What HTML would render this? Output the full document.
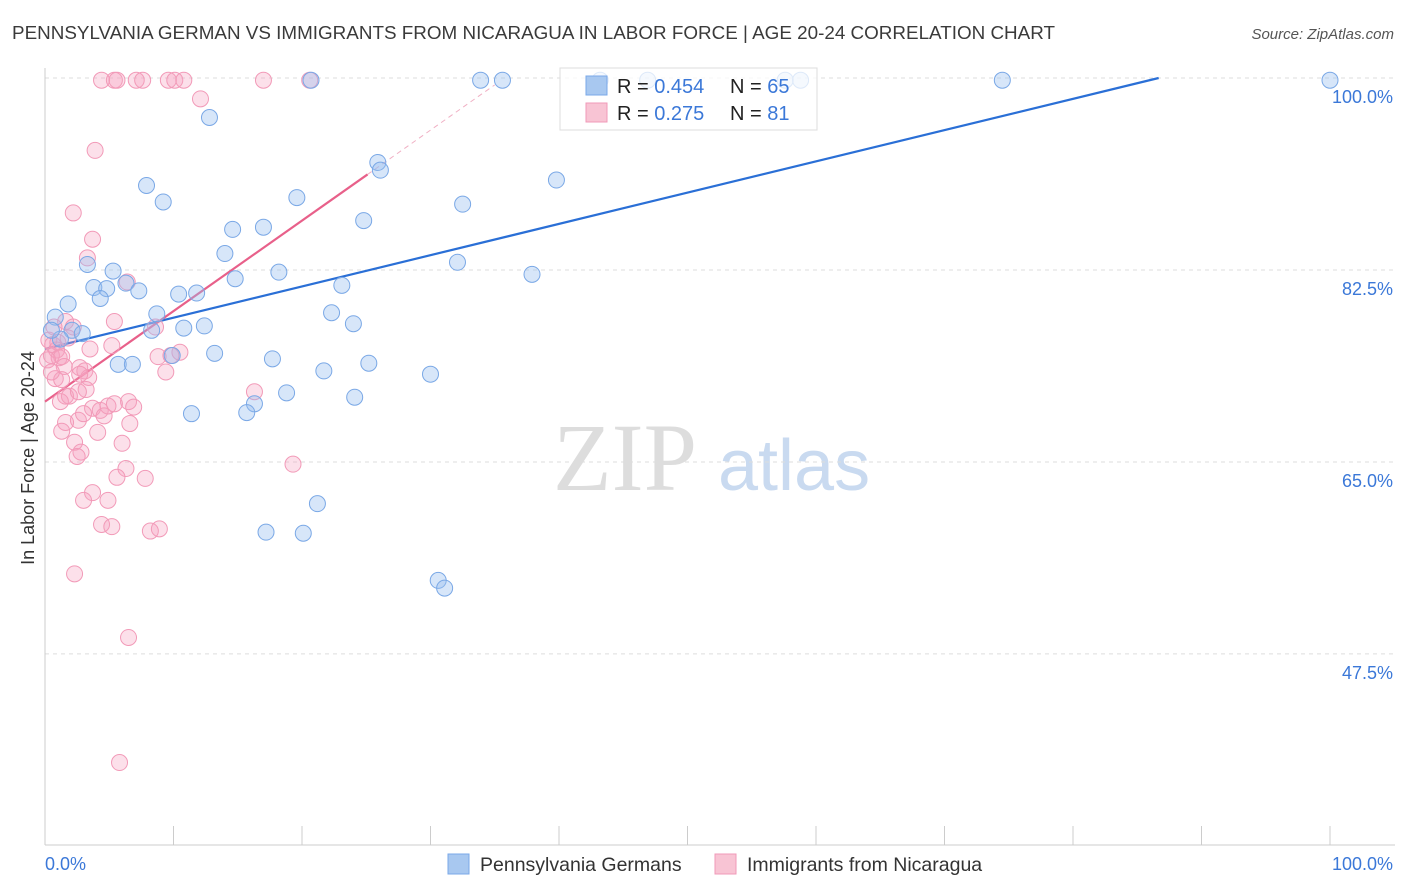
<!DOCTYPE html>
<html><head><meta charset="utf-8"><style>
body{margin:0;background:#fff;font-family:"Liberation Sans",sans-serif;}
svg{display:block}
</style></head><body>
<svg id="chart" width="1406" height="892" xmlns="http://www.w3.org/2000/svg" font-family="Liberation Sans, sans-serif">
<text x="12" y="39" font-size="18" fill="#3a3a3a" textLength="1043" lengthAdjust="spacingAndGlyphs">PENNSYLVANIA GERMAN VS IMMIGRANTS FROM NICARAGUA IN LABOR FORCE | AGE 20-24 CORRELATION CHART</text>
<text x="1394" y="39" font-size="15" fill="#555" font-style="italic" text-anchor="end">Source: ZipAtlas.com</text>
<g>
<text x="553" y="490" font-size="96" fill="#ddd" font-family="Liberation Serif, serif">ZIP</text>
<text x="718" y="490" font-size="72" fill="#c9daf0">atlas</text>
</g>
<g id="grid"></g>
<g id="axes"></g>
<g id="trends"></g>
<g id="points"></g>
<text transform="translate(34,458) rotate(-90)" font-size="18" fill="#333" text-anchor="middle">In Labor Force | Age 20-24</text>
<g>
<rect x="560" y="68" width="257" height="62" fill="#fff" fill-opacity="0.75" stroke="#ddd"/>
<rect x="586" y="76" width="21" height="19" fill="#a8c8f0" stroke="#7aa8e8"/>
<rect x="586" y="103" width="21" height="19" fill="#f8c4d4" stroke="#f09ab8"/>
<text x="617" y="93" font-size="20" fill="#222">R = <tspan fill="#3b78d8">0.454</tspan></text>
<text x="730" y="93" font-size="20" fill="#222">N = <tspan fill="#3b78d8">65</tspan></text>
<text x="617" y="120" font-size="20" fill="#222">R = <tspan fill="#3b78d8"> 0.275</tspan></text>
<text x="730" y="120" font-size="20" fill="#222">N = <tspan fill="#3b78d8"> 81</tspan></text>
</g>
<g>
<rect x="448" y="854" width="21" height="20" fill="#a8c8f0" stroke="#7aa8e8"/>
<text x="480" y="871" font-size="19.5" fill="#333">Pennsylvania Germans</text>
<rect x="715" y="854" width="21" height="20" fill="#f8c4d4" stroke="#f09ab8"/>
<text x="747" y="871" font-size="19.5" fill="#333">Immigrants from Nicaragua</text>
</g>
</svg>
<script>
const blueX=[20.7,33.9,35.6,43.2,46.9,57.6,58.8,74.5,100,12.8,25.9,26.1,39.8,7.9,9.2,19.6,32.5,24.8,14.6,17.0,14.0,32.1,3.3,5.3,18.2,37.9,14.8,6.3,23.1,3.8,4.8,7.3,10.4,11.8,1.8,4.3,8.7,22.3,0.8,12.4,10.8,24.0,8.3,2.1,2.9,1.2,13.2,9.9,17.7,25.2,5.7,6.8,21.7,30.0,18.8,24.1,16.3,11.4,15.7,21.2,17.2,20.1,30.6,31.1,0.5];
const blueY=[99.8,99.8,99.8,99.8,99.8,99.8,99.8,99.8,99.8,96.4,92.3,91.6,90.7,90.2,88.7,89.1,88.5,87.0,86.2,86.4,84.0,83.2,83.0,82.4,82.3,82.1,81.7,81.3,81.1,80.9,80.8,80.6,80.3,80.4,79.4,79.9,78.5,78.6,78.2,77.4,77.2,77.6,77.0,77.0,76.7,76.2,74.9,74.7,74.4,74.0,73.9,73.9,73.3,73.0,71.3,70.9,70.3,69.4,69.5,61.2,58.6,58.5,54.2,53.5,77.0];
const pinkX=[4.4,5.4,5.6,7.1,7.6,9.6,10.1,10.8,17.0,20.6,12.1,3.9,2.2,3.7,3.3,6.4,5.4,1.6,2.2,8.6,0.3,0.6,0.9,0.5,1.1,1.3,3.5,5.2,8.8,10.5,9.8,1.5,2.7,3.1,9.4,0.8,1.3,3.4,2.7,3.2,16.3,1.6,1.9,6.5,3.7,4.3,4.9,6.9,4.6,2.6,1.6,1.3,6.6,4.1,6.0,2.3,2.8,2.5,19.3,6.3,5.6,7.8,3.7,3.0,4.9,4.4,5.2,8.2,8.9,2.3,6.5,5.8,0.7,0.2,0.5,1.0,1.8,3.0,2.6,1.2,5.4];
const pinkY=[99.8,99.8,99.8,99.8,99.8,99.8,99.8,99.8,99.8,99.8,98.1,93.4,87.7,85.3,83.6,81.4,77.8,77.8,77.3,77.3,76.1,75.7,75.2,74.7,74.5,74.6,75.3,75.6,74.6,75.0,74.7,73.7,73.6,73.3,73.2,72.6,72.5,72.7,73.0,71.6,71.4,71.0,71.0,70.5,69.9,69.7,70.1,70.0,69.2,68.8,68.6,67.8,68.5,67.7,66.7,66.8,65.9,65.5,64.8,64.4,63.6,63.5,62.2,61.5,61.5,59.3,59.1,58.7,58.9,54.8,49.0,37.6,77.3,74.3,73.2,75.9,76.3,69.4,71.4,70.5,70.3];
const yTicks=[100,82.5,65,47.5];
const yTickLabels=["100.0%","82.5%","65.0%","47.5%"];
const xTickLabels=["0.0%","100.0%"];
const blueTrend=[75.3,0.285];
const pinkTrend=[70.5,0.825];
const pinkSolidEnd=25.1, pinkDashEnd=35;

const NS="http://www.w3.org/2000/svg";
const X0=45,X1=1330,Y100=78,PXPER=10.97;
const sx=v=>X0+v*(X1-X0)/100;
const sy=v=>Y100+(100-v)*PXPER;
function mk(tag,attrs,parent){const e=document.createElementNS(NS,tag);for(const k in attrs)e.setAttribute(k,attrs[k]);parent.appendChild(e);return e;}
const grid=document.getElementById('grid'),axes=document.getElementById('axes'),trends=document.getElementById('trends'),pts=document.getElementById('points');
yTicks.forEach((t,i)=>{
  const l=mk('line',{x1:X0,x2:1395,y1:sy(t),y2:sy(t),stroke:'#ddd','stroke-dasharray':'4,4'},grid);
  
  
  const tx=mk('text',{x:1393,y:sy(t)+25,'font-size':18,fill:'#3b78d8','text-anchor':'end'},axes);
  tx.textContent=yTickLabels[i];
  
  
});
const ax=mk('line',{x1:X0,x2:X0,y1:68,y2:845,stroke:'#ccc'},axes);


const bx=mk('line',{x1:X0,x2:1395,y1:845,y2:845,stroke:'#ccc'},axes);


for(let i=0;i<=10;i++){
  const t=mk('line',{x1:sx(i*10),x2:sx(i*10),y1:826,y2:845,stroke:'#ccc'},axes);
  
  
}
[[0,'start',45],[100,'end',1393]].forEach((d,i)=>{
  const t=mk('text',{x:d[2],y:870,'font-size':18,fill:'#3b78d8','text-anchor':d[1]},axes);
  t.textContent=xTickLabels[i];
  
  
});
const bEnd=(100-blueTrend[0])/blueTrend[1];
const bl=mk('line',{x1:sx(0),y1:sy(blueTrend[0]),x2:sx(bEnd),y2:sy(100),stroke:'#2a6fd6','stroke-width':2.2},trends);


const pd=mk('line',{x1:sx(pinkSolidEnd),y1:sy(pinkTrend[0]+pinkTrend[1]*pinkSolidEnd),x2:sx(pinkDashEnd),y2:sy(pinkTrend[0]+pinkTrend[1]*pinkDashEnd),stroke:'#f0b0c4','stroke-width':1,'stroke-dasharray':'5,4'},trends);


const pl=mk('line',{x1:sx(0),y1:sy(pinkTrend[0]),x2:sx(pinkSolidEnd),y2:sy(pinkTrend[0]+pinkTrend[1]*pinkSolidEnd),stroke:'#e8608a','stroke-width':2.2},trends);


pinkX.forEach((x,i)=>{
  const c=mk('circle',{cx:sx(x),cy:sy(pinkY[i]),r:8,fill:'rgba(245,160,190,0.33)',stroke:'#f29ab8','stroke-width':1},pts);
  
  
});
blueX.forEach((x,i)=>{
  const c=mk('circle',{cx:sx(x),cy:sy(blueY[i]),r:8,fill:'rgba(150,190,240,0.38)',stroke:'#7aa8e6','stroke-width':1},pts);
  
  
});
</script>
</body></html>
